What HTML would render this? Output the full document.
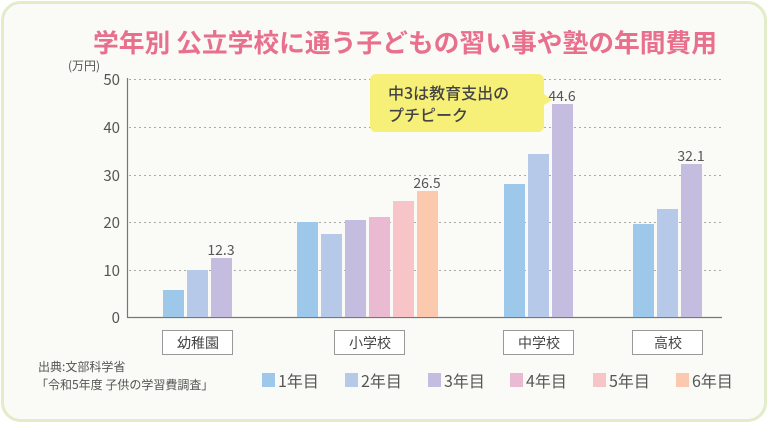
<!DOCTYPE html>
<html><head><meta charset="utf-8"><style>
html,body{margin:0;padding:0;background:#fff;width:768px;height:425px;overflow:hidden}
svg{display:block;font-family:"Noto Sans CJK JP",sans-serif}
</style></head><body>
<svg width="768" height="425" viewBox="0 0 768 425" xmlns="http://www.w3.org/2000/svg">
<rect x="2.5" y="2.5" width="763" height="418" rx="18" fill="#fafaf6" stroke="#e3ecc9" stroke-width="3"/>
<text x="405" y="52" text-anchor="middle" font-size="25.5" font-weight="bold" fill="#e8708c" textLength="624" lengthAdjust="spacingAndGlyphs">学年別 公立学校に通う子どもの習い事や塾の年間費用</text>
<text x="68" y="70" font-size="12" fill="#555">(万円)</text>
<g stroke="#aaa" stroke-width="1" stroke-dasharray="2,3">
<line x1="129" y1="79.5" x2="722" y2="79.5"/><line x1="129" y1="127.5" x2="722" y2="127.5"/><line x1="129" y1="175.5" x2="722" y2="175.5"/><line x1="129" y1="222.5" x2="722" y2="222.5"/><line x1="129" y1="270.5" x2="722" y2="270.5"/>
</g>
<line x1="127.5" y1="78" x2="127.5" y2="318" stroke="#777" stroke-width="1.2"/>
<line x1="127" y1="317.5" x2="722" y2="317.5" stroke="#777" stroke-width="1.2"/>
<g font-size="15" fill="#555" text-anchor="end">
<text x="120" y="85">50</text><text x="120" y="133">40</text><text x="120" y="181">30</text><text x="120" y="228">20</text><text x="120" y="276">10</text><text x="120" y="323">0</text>
</g>
<g>
<rect x="163" y="290" width="21" height="27" fill="#9ec8ea"/>
<rect x="187" y="270" width="21" height="47" fill="#b7c9e8"/>
<rect x="211" y="258" width="21" height="59" fill="#c4bde0"/>
<rect x="297" y="222" width="21" height="95" fill="#9ec8ea"/>
<rect x="321" y="234" width="21" height="83" fill="#b7c9e8"/>
<rect x="345" y="220" width="21" height="97" fill="#c4bde0"/>
<rect x="369" y="217" width="21" height="100" fill="#eab9d2"/>
<rect x="393" y="201" width="21" height="116" fill="#f7c4c8"/>
<rect x="417" y="191" width="21" height="126" fill="#fbcaae"/>
<rect x="504" y="184" width="21" height="133" fill="#9ec8ea"/>
<rect x="528" y="154" width="21" height="163" fill="#b7c9e8"/>
<rect x="552" y="104" width="21" height="213" fill="#c4bde0"/>
<rect x="633" y="224" width="21" height="93" fill="#9ec8ea"/>
<rect x="657" y="209" width="21" height="108" fill="#b7c9e8"/>
<rect x="681" y="164" width="21" height="153" fill="#c4bde0"/>
</g>
<g font-size="14" fill="#555" text-anchor="middle">
<text x="221" y="255">12.3</text><text x="427" y="188">26.5</text><text x="562" y="101">44.6</text><text x="691" y="161">32.1</text>
</g>
<path d="M376 74 h162 a6 6 0 0 1 6 6 v14 l8 6 l-8 5 v21 a6 6 0 0 1 -6 6 h-162 a6 6 0 0 1 -6 -6 v-46 a6 6 0 0 1 6 -6z" fill="#f6ef78"/>
<g font-size="16" fill="#444" font-weight="500">
<text x="388" y="99">中3は教育支出の</text><text x="388" y="121">プチピーク</text>
</g>
<g fill="#fff" stroke="#999" stroke-width="1">
<rect x="162.5" y="330.5" width="70" height="24"/><rect x="334.5" y="330.5" width="70" height="24"/><rect x="503.5" y="330.5" width="70" height="24"/><rect x="632.5" y="330.5" width="70" height="24"/>
</g>
<g font-size="14" fill="#444" text-anchor="middle">
<text x="198" y="348">幼稚園</text><text x="370" y="348">小学校</text><text x="539" y="348">中学校</text><text x="668" y="348">高校</text>
</g>
<g font-size="12" fill="#555">
<text x="38" y="371">出典:文部科学省</text><text x="36" y="389">「令和5年度 子供の学習費調査」</text>
</g>
<g>
<rect x="262" y="373" width="13" height="14" fill="#9ec8ea"/>
<rect x="345" y="373" width="13" height="14" fill="#b7c9e8"/>
<rect x="428" y="373" width="13" height="14" fill="#c4bde0"/>
<rect x="510" y="373" width="13" height="14" fill="#eab9d2"/>
<rect x="593" y="373" width="13" height="14" fill="#f7c4c8"/>
<rect x="676" y="373" width="13" height="14" fill="#fbcaae"/>
</g>
<g font-size="16" fill="#555">
<text x="278" y="387">1年目</text><text x="361" y="387">2年目</text><text x="444" y="387">3年目</text><text x="526" y="387">4年目</text><text x="609" y="387">5年目</text><text x="692" y="387">6年目</text>
</g>
</svg>
</body></html>
